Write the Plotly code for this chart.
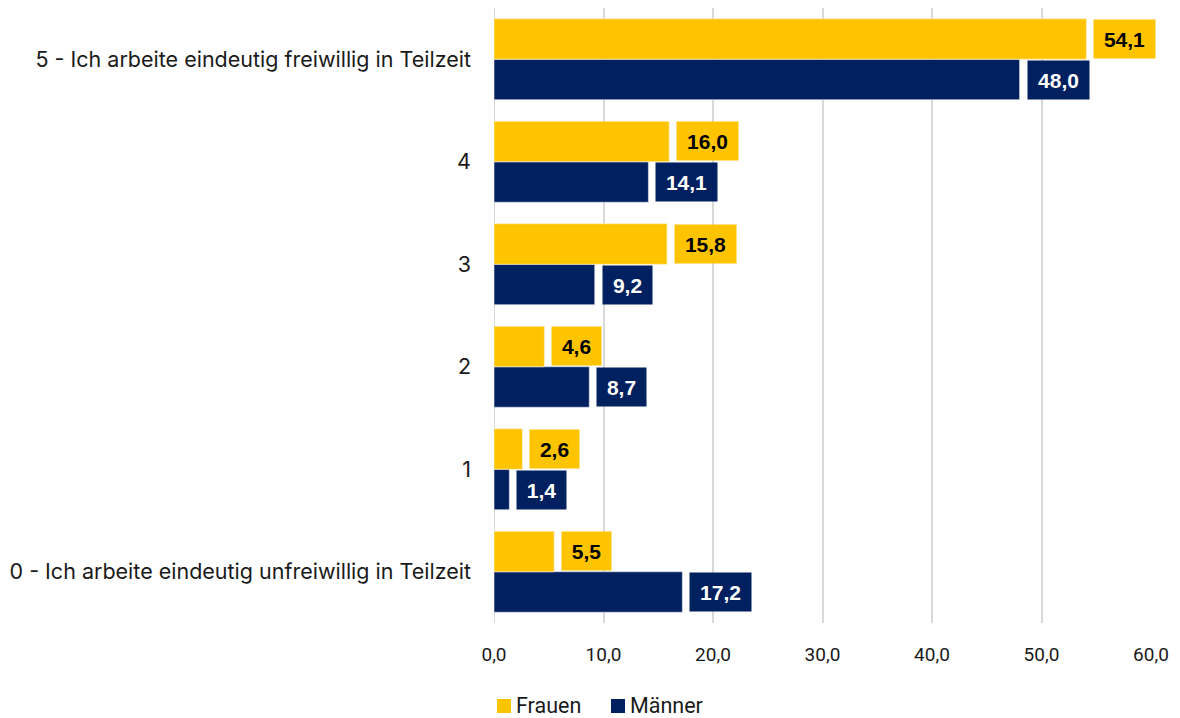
import plotly.graph_objects as go

categories = [
    "0 - Ich arbeite eindeutig unfreiwillig in Teilzeit",
    "1",
    "2",
    "3",
    "4",
    "5 - Ich arbeite eindeutig freiwillig in Teilzeit",
]
frauen = [5.5, 2.6, 4.6, 15.8, 16.0, 54.1]
maenner = [17.2, 1.4, 8.7, 9.2, 14.1, 48.0]
x_ticks = [0, 10, 20, 30, 40, 50, 60]
x_tick_labels = ["0,0", "10,0", "20,0", "30,0", "40,0", "50,0", "60,0"]

YELLOW = "#FFC400"
NAVY = "#00205F"
TEXT = "#1A1A1A"
LABEL_SIZE = 21


def fmt(v):
    return f"{v:.1f}".replace(".", ",")


def box_width(s):
    # approximate bold-sans advance widths plus horizontal padding
    digits = sum(ch.isdigit() for ch in s)
    return round(digits * 0.556 * LABEL_SIZE + 0.278 * LABEL_SIZE + 20)


fig = go.Figure()
# Männer first so that Frauen is drawn above it within each group
fig.add_trace(go.Bar(y=categories, x=maenner, name="Männer", orientation="h",
                     marker=dict(color=NAVY, line=dict(color="#E6E9F0", width=0.6))))
fig.add_trace(go.Bar(y=categories, x=frauen, name="Frauen", orientation="h",
                     marker=dict(color=YELLOW, line=dict(color="#FFF4D6", width=0.6))))

annotations = []
for cat, fv, mv in zip(categories, frauen, maenner):
    for val, shift, bg, fg in ((fv, 20.5, YELLOW, "#000000"), (mv, -20.5, NAVY, "#FFFFFF")):
        s = fmt(val)
        annotations.append(dict(
            x=val, y=cat, xref="x", yref="y", xanchor="left", yanchor="middle",
            xshift=7, yshift=shift, text=f"<b>{s}</b>", showarrow=False,
            bgcolor=bg, borderpad=0, width=box_width(s), height=38,
            font=dict(family="Liberation Sans", size=LABEL_SIZE, color=fg)))

# legend drawn below the axis
legend_items = [("Frauen", YELLOW, 497), ("Männer", NAVY, 611)]
shapes = [dict(type="line", xref="x", yref="paper", x0=0, x1=0, y0=0, y1=1,
               line=dict(color="#D9D9D9", width=2), layer="below")]
for label, color, px in legend_items:
    shapes.append(dict(type="rect", xref="paper", yref="paper",
                       x0=(px - 494) / 657, x1=(px + 14 - 494) / 657,
                       y0=-(713 - 623) / 615, y1=-(699 - 623) / 615,
                       fillcolor=color, line=dict(width=0)))
    annotations.append(dict(x=(px + 18 - 494) / 657, y=-(705 - 623) / 615,
                            xref="paper", yref="paper", xanchor="left", yanchor="middle",
                            text=label, showarrow=False, height=24, borderpad=0,
                            font=dict(family="Roboto", size=21.5, color=TEXT)))

fig.update_layout(
    width=1180, height=718,
    margin=dict(l=494, r=29, t=8, b=95),
    paper_bgcolor="white", plot_bgcolor="white",
    barmode="group", bargap=0.21, bargroupgap=0.0,
    annotations=annotations, shapes=shapes,
    showlegend=False,
    xaxis=dict(range=[0, 60], tickvals=x_ticks, ticktext=x_tick_labels,
               showgrid=True, gridcolor="#D9D9D9", gridwidth=2, zeroline=False,
               showline=False, ticks="", ticklabelstandoff=18,
               tickfont=dict(family="Roboto", size=19, color=TEXT)),
    yaxis=dict(categoryorder="array", categoryarray=categories,
               showgrid=False, zeroline=False, showline=False, ticks="",
               ticklabelstandoff=22,
               tickfont=dict(family="Inter", size=21.5, color=TEXT)),
)

fig.write_html("out.html")
